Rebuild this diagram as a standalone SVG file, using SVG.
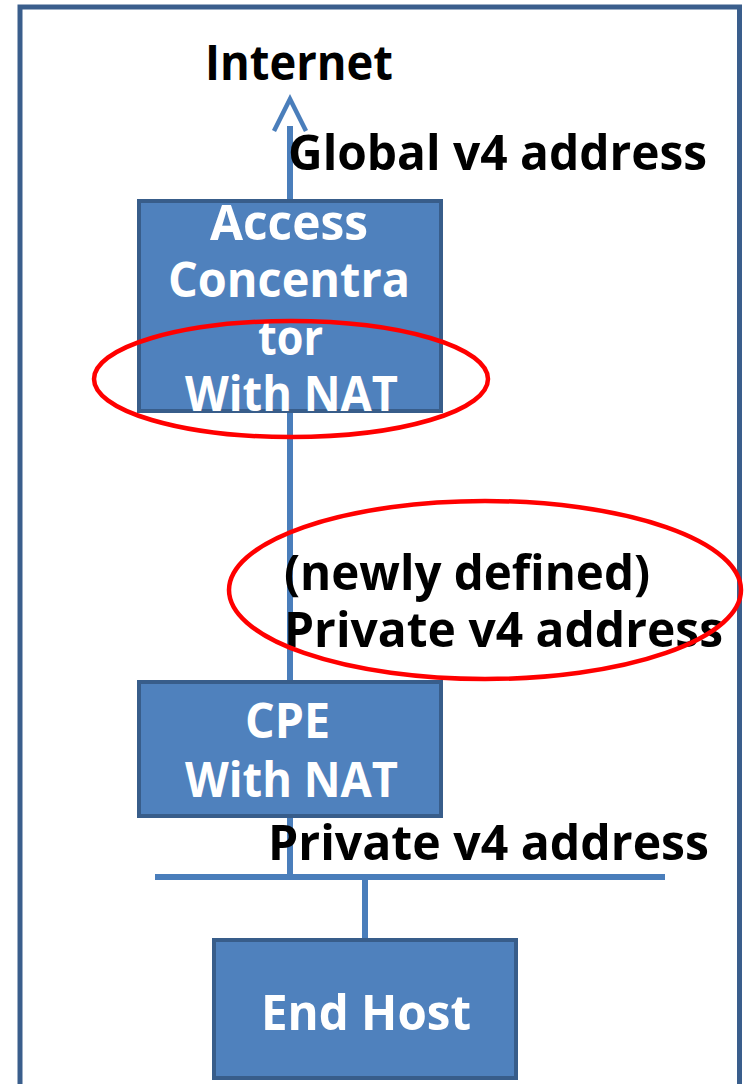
<svg xmlns="http://www.w3.org/2000/svg" width="746" height="1084" viewBox="0 0 746 1084">
  <style>
    .frame { fill: none; stroke: #3a5e8c; stroke-width: 5; }
    .box { fill: #4f81bd; stroke: #385d8a; stroke-width: 4; }
    .link { stroke: #4a7ebb; stroke-width: 6; fill: none; }
    .head { stroke: #4a7ebb; stroke-width: 4.5; fill: none; }
    .mark { fill: none; stroke: #ff0000; stroke-width: 4.5; }
    .lbl { font-family: "Open Sans", "DejaVu Sans", sans-serif; font-weight: bold; font-size: 49px; }
    .dark { fill: #000000; }
    .light { fill: #ffffff; }
  </style>

  <rect width="746" height="1084" fill="#ffffff"/>

  <!-- outer frame, open at the bottom -->
  <path class="frame" d="M20,1084 V7 H739.5 V1084"/>

  <!-- connectors -->
  <g id="connectors">
    <line class="link" x1="290" y1="201" x2="290" y2="126"/>
    <polyline class="head" points="274,131 290,99 306,131"/>
    <line class="link" x1="290" y1="411" x2="290" y2="682"/>
    <line class="link" x1="290" y1="816" x2="290" y2="877"/>
    <line class="link" x1="155" y1="877" x2="665" y2="877"/>
    <line class="link" x1="365" y1="877" x2="365" y2="940"/>
  </g>

  <!-- address labels -->
  <g id="labels">
    <text class="lbl dark" x="205" y="80" textLength="188" lengthAdjust="spacingAndGlyphs">Internet</text>
    <text class="lbl dark" x="288" y="170" textLength="419" lengthAdjust="spacingAndGlyphs">Global v4 address</text>
    <text class="lbl dark" x="284" y="590" textLength="366" lengthAdjust="spacingAndGlyphs">(newly defined)</text>
    <text class="lbl dark" x="284" y="647" textLength="439" lengthAdjust="spacingAndGlyphs">Private v4 address</text>
    <text class="lbl dark" x="268" y="860" textLength="441" lengthAdjust="spacingAndGlyphs">Private v4 address</text>
  </g>

  <!-- access concentrator -->
  <g id="access-concentrator">
    <rect class="box" x="139" y="201" width="302" height="210"/>
    <text class="lbl light" x="210" y="240" textLength="158" lengthAdjust="spacingAndGlyphs">Access</text>
    <text class="lbl light" x="168" y="297" textLength="242" lengthAdjust="spacingAndGlyphs">Concentra</text>
    <text class="lbl light" x="258" y="355" textLength="65" lengthAdjust="spacingAndGlyphs">tor</text>
    <text class="lbl light" x="185" y="411" textLength="213" lengthAdjust="spacingAndGlyphs">With NAT</text>
  </g>

  <!-- customer premises equipment -->
  <g id="cpe">
    <rect class="box" x="139" y="682" width="302" height="134"/>
    <text class="lbl light" x="245" y="738" textLength="85" lengthAdjust="spacingAndGlyphs">CPE</text>
    <text class="lbl light" x="185" y="797" textLength="213" lengthAdjust="spacingAndGlyphs">With NAT</text>
  </g>

  <!-- end host -->
  <g id="end-host">
    <rect class="box" x="214" y="940" width="302" height="138"/>
    <text class="lbl light" x="261" y="1030" textLength="210" lengthAdjust="spacingAndGlyphs">End Host</text>
  </g>

  <!-- highlight rings -->
  <g id="highlights">
    <ellipse class="mark" cx="291" cy="379" rx="197" ry="58"/>
    <ellipse class="mark" cx="485" cy="590" rx="256" ry="89"/>
  </g>
</svg>
